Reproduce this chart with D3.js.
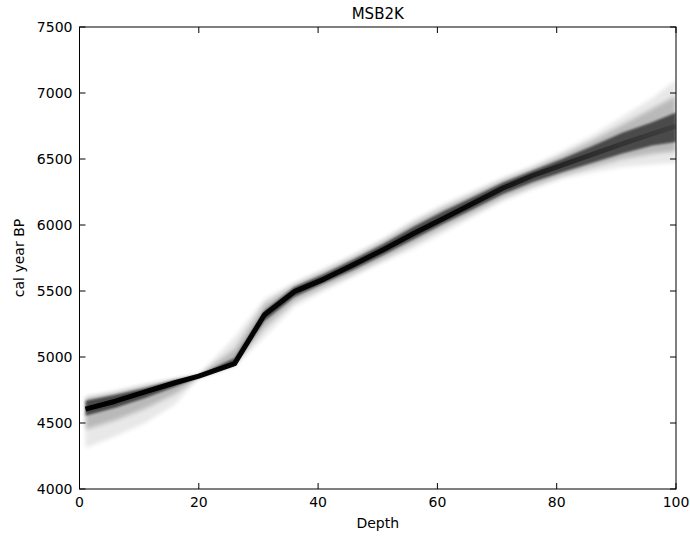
<!DOCTYPE html>
<html>
<head>
<meta charset="utf-8">
<script src="https://cdn.jsdelivr.net/npm/d3@7"></script>
<style>
  body { margin: 0; background: #fff; }
  svg text { font-family: "DejaVu Sans", sans-serif; fill: #000; }
</style>
</head>
<body>
<figure id="chart" style="margin:0"></figure>
<script>
// depths (cm) where the age-depth iterations were read
const depths = [1, 6, 11, 16, 20, 26, 31, 36, 41, 46, 51, 56, 61, 66, 71, 76, 81, 86, 91, 96, 100];
// densest path through the iterations
const coreAge = [4605, 4665, 4735, 4805, 4855, 4950, 5320, 5495, 5590, 5700, 5815, 5935, 6050, 6165, 6280, 6375, 6455, 6535, 6615, 6690, 6750];
// where most iterations sit
const innerMin = [4555, 4615, 4690, 4775, 4846, 4942, 5272, 5455, 5560, 5662, 5775, 5892, 6010, 6122, 6234, 6325, 6402, 6472, 6542, 6602, 6628];
const innerMax = [4668, 4714, 4766, 4826, 4862, 4992, 5350, 5530, 5628, 5740, 5858, 5986, 6104, 6212, 6322, 6412, 6502, 6598, 6698, 6778, 6852];
// medium spread
const midMin = [4450, 4520, 4610, 4720, 4845, 4940, 5220, 5420, 5530, 5635, 5745, 5860, 5980, 6090, 6205, 6295, 6375, 6440, 6500, 6540, 6560];
const midMax = [4690, 4730, 4780, 4832, 4864, 5060, 5400, 5545, 5650, 5760, 5880, 6015, 6130, 6235, 6340, 6430, 6530, 6640, 6760, 6880, 6980];
// faint outer spread of the iterations
const outerMin = [4310, 4400, 4500, 4640, 4845, 4930, 5150, 5380, 5500, 5610, 5720, 5820, 5940, 6060, 6180, 6270, 6350, 6400, 6440, 6460, 6470];
const outerMax = [4700, 4745, 4795, 4835, 4866, 5150, 5440, 5565, 5670, 5780, 5900, 6040, 6160, 6260, 6360, 6450, 6560, 6680, 6820, 6960, 7100];

const xTicks = [0, 20, 40, 60, 80, 100];
const yTicks = [4000, 4500, 5000, 5500, 6000, 6500, 7000, 7500];

const width = 690, height = 537;
const margin = { top: 27, right: 14, bottom: 48, left: 79.5 };
const innerW = width - margin.left - margin.right;
const innerH = height - margin.top - margin.bottom;

const svg = d3.select("figure#chart")
  .append("svg")
  .attr("width", width)
  .attr("height", height);

const x = d3.scaleLinear().domain([0, 100]).range([margin.left, margin.left + innerW]);
const y = d3.scaleLinear().domain([4000, 7500]).range([margin.top + innerH, margin.top]);

const defs = svg.append("defs");
defs.append("clipPath").attr("id", "plotClip")
  .append("rect")
  .attr("x", margin.left).attr("y", margin.top)
  .attr("width", innerW).attr("height", innerH);
defs.append("filter").attr("id", "soft")
  .append("feGaussianBlur").attr("stdDeviation", 2);
defs.append("filter").attr("id", "softer")
  .append("feGaussianBlur").attr("stdDeviation", 1);

// core line: solid black on the left, diffuse grey towards 100 cm
const grad = defs.append("linearGradient").attr("id", "coreGrad")
  .attr("gradientUnits", "userSpaceOnUse")
  .attr("x1", x(0)).attr("x2", x(100)).attr("y1", 0).attr("y2", 0);
grad.append("stop").attr("offset", "0%").attr("stop-color", "#000").attr("stop-opacity", 1);
grad.append("stop").attr("offset", "65%").attr("stop-color", "#000").attr("stop-opacity", 0.9);
grad.append("stop").attr("offset", "100%").attr("stop-color", "#222").attr("stop-opacity", 0.3);

const plot = svg.append("g").attr("clip-path", "url(#plotClip)");

const band = (lo, hi) => d3.area()
  .x((d, i) => x(depths[i]))
  .y0((d, i) => y(lo[i]))
  .y1((d, i) => y(hi[i]));

// outer faint spread
plot.append("path")
  .datum(depths)
  .attr("d", band(outerMin, outerMax))
  .attr("fill", "#000")
  .attr("opacity", 0.09)
  .attr("filter", "url(#soft)");

// medium spread
plot.append("path")
  .datum(depths)
  .attr("d", band(midMin, midMax))
  .attr("fill", "#000")
  .attr("opacity", 0.2)
  .attr("filter", "url(#soft)");

// main cloud
plot.append("path")
  .datum(depths)
  .attr("d", band(innerMin, innerMax))
  .attr("fill", "#000")
  .attr("opacity", 0.6)
  .attr("filter", "url(#softer)");

// densest iterations
const line = d3.line()
  .x((d, i) => x(depths[i]))
  .y(d => y(d));

plot.append("path")
  .datum(coreAge)
  .attr("d", line)
  .attr("fill", "none")
  .attr("stroke", "url(#coreGrad)")
  .attr("stroke-width", 5)
  .attr("stroke-linejoin", "round");

// frame
const axes = svg.append("g");
axes.append("rect")
  .attr("x", margin.left).attr("y", margin.top)
  .attr("width", innerW).attr("height", innerH)
  .attr("fill", "none").attr("stroke", "#000").attr("stroke-width", 1);

// ticks on all four sides, pointing inwards
const tickLen = 6;
axes.selectAll(".xt-bottom").data(xTicks).enter().append("line")
  .attr("x1", d => x(d)).attr("x2", d => x(d))
  .attr("y1", y(4000)).attr("y2", y(4000) - tickLen)
  .attr("stroke", "#000");
axes.selectAll(".xt-top").data(xTicks).enter().append("line")
  .attr("x1", d => x(d)).attr("x2", d => x(d))
  .attr("y1", y(7500)).attr("y2", y(7500) + tickLen)
  .attr("stroke", "#000");
axes.selectAll(".yt-left").data(yTicks).enter().append("line")
  .attr("x1", x(0)).attr("x2", x(0) + tickLen)
  .attr("y1", d => y(d)).attr("y2", d => y(d))
  .attr("stroke", "#000");
axes.selectAll(".yt-right").data(yTicks).enter().append("line")
  .attr("x1", x(100)).attr("x2", x(100) - tickLen)
  .attr("y1", d => y(d)).attr("y2", d => y(d))
  .attr("stroke", "#000");

// tick labels
axes.selectAll(".xl").data(xTicks).enter().append("text")
  .attr("x", d => x(d))
  .attr("y", y(4000) + 18)
  .attr("text-anchor", "middle")
  .style("font-size", "14px")
  .text(d => d);

axes.selectAll(".yl").data(yTicks).enter().append("text")
  .attr("x", x(0) - 7)
  .attr("y", d => y(d) + 5)
  .attr("text-anchor", "end")
  .style("font-size", "14px")
  .text(d => d);

// titles
svg.append("text")
  .attr("x", x(50)).attr("y", 19)
  .attr("text-anchor", "middle")
  .style("font-size", "15px")
  .text("MSB2K");

svg.append("text")
  .attr("x", x(50)).attr("y", 528)
  .attr("text-anchor", "middle")
  .style("font-size", "14px")
  .text("Depth");

svg.append("text")
  .attr("transform", "translate(24," + y(5750) + ") rotate(-90)")
  .attr("text-anchor", "middle")
  .style("font-size", "14px")
  .text("cal year BP");
</script>
</body>
</html>
